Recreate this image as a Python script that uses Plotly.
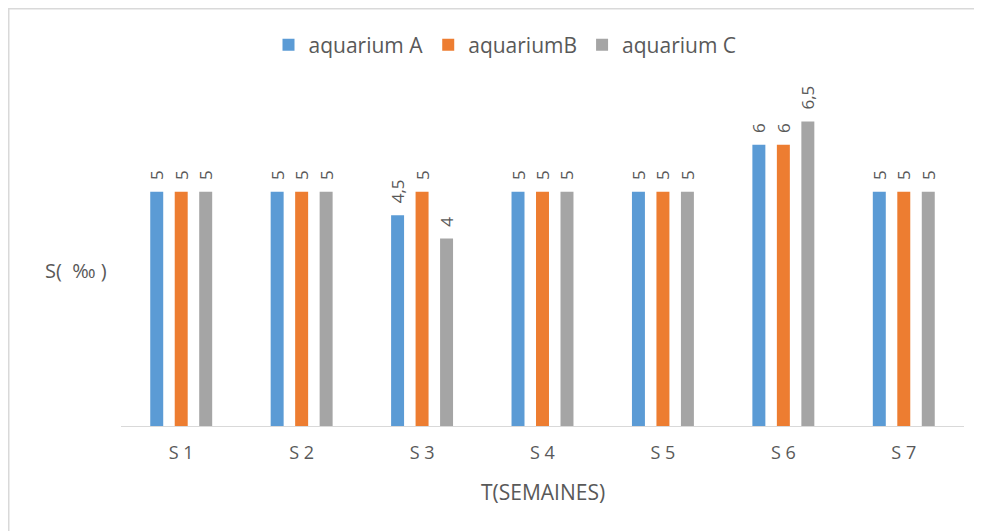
import plotly.graph_objects as go

categories = ["S 1", "S 2", "S 3", "S 4", "S 5", "S 6", "S 7"]
aquarium_a = [5, 5, 4.5, 5, 5, 6, 5]
aquarium_b = [5, 5, 5, 5, 5, 6, 5]
aquarium_c = [5, 5, 4, 5, 5, 6.5, 5]
series_names = ["aquarium A", "aquariumB", "aquarium C"]
colors = ["#5B9BD5", "#ED7D31", "#A5A5A5"]

FONT = "Open Sans, Liberation Sans, sans-serif"
GREY = "#595959"

# plot area geometry (figure px; page shows the figure offset by 8 px)
L, R, T, B = 113, 18, 90, 105
W, H = 974, 523
PW, PH = W - L - R, H - T - B
BASE = T + PH


def px_x(fx):
    return (fx - L) / PW


def px_y(fy):
    return (BASE - fy) / PH


def fmt(v):
    return ("%g" % v).replace(".", ",")


fig = go.Figure()
for name, vals, col in zip(series_names, [aquarium_a, aquarium_b, aquarium_c], colors):
    fig.add_trace(go.Bar(
        x=categories, y=vals, name=name, marker=dict(color=col, line=dict(width=0)),
        text=["\u00a0\u00a0" + fmt(v) for v in vals], textposition="outside", textangle=-90,
        constraintext="none",
        textfont=dict(family=FONT, size=17, color=GREY), cliponaxis=False,
    ))

fig.update_layout(
    width=W, height=H,
    margin=dict(l=L, r=R, t=T, b=B),
    paper_bgcolor="white", plot_bgcolor="white",
    barmode="group", bargap=0.39, bargroupgap=0.47,
    font=dict(family=FONT, color=GREY),
    showlegend=True,
    legend=dict(orientation="h", x=px_x(497), xanchor="center", y=px_y(37), yanchor="middle",
                font=dict(family=FONT, size=21, color=GREY), itemwidth=30,
                traceorder="normal"),
    xaxis=dict(showline=True, linecolor="#D9D9D9", linewidth=1,
               ticks="outside", ticklen=10, tickcolor="rgba(0,0,0,0)",
               tickfont=dict(family=FONT, size=18, color=GREY)),
    yaxis=dict(range=[0, 7], showgrid=False, showticklabels=False, zeroline=False, showline=False),
    annotations=[
        dict(text="S(&nbsp;&nbsp;‰ )", xref="paper", yref="paper",
             x=px_x(68), y=px_y(262), showarrow=False,
             font=dict(family=FONT, size=20, color=GREY), xanchor="center", yanchor="middle"),
        dict(text="T(SEMAINES)", xref="paper", yref="paper",
             x=px_x(535), y=px_y(484), showarrow=False,
             font=dict(family=FONT, size=21, color=GREY), xanchor="center", yanchor="middle"),
    ],
    shapes=[dict(type="rect", xref="paper", yref="paper",
                 x0=px_x(0.75), x1=1.2, y0=-0.5, y1=px_y(0.75),
                 line=dict(color="#D9D9D9", width=1.5), fillcolor="rgba(0,0,0,0)")],
)

fig.write_html("out.html")
